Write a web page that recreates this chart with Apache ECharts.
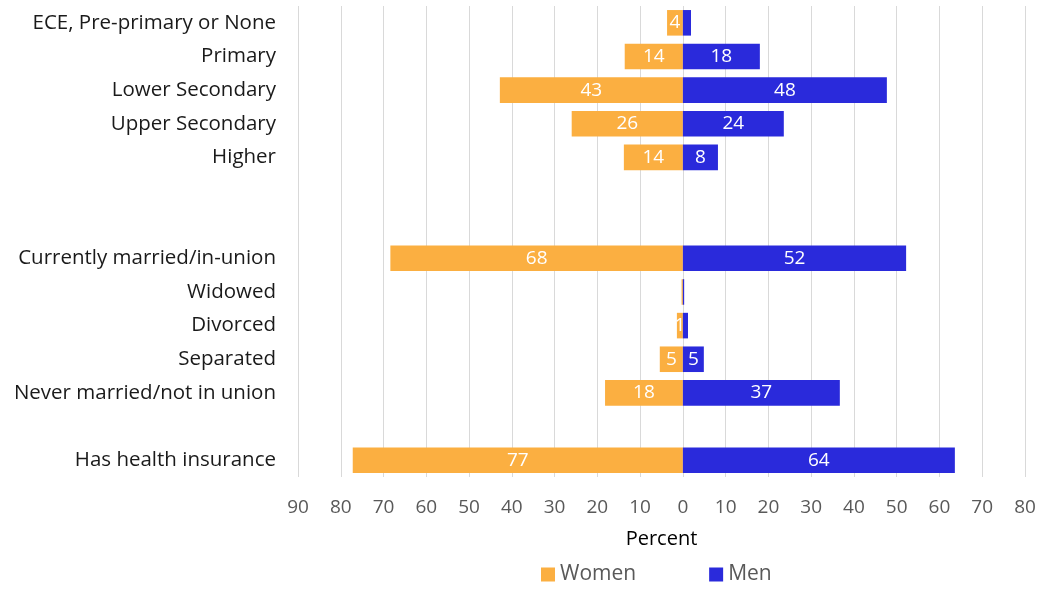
<!DOCTYPE html>
<html>
<head>
<meta charset="utf-8">
<script src="https://cdn.jsdelivr.net/npm/echarts@6/dist/echarts.min.js"></script>
<style>
  html, body { margin: 0; padding: 0; background: #ffffff; }
  #chart { width: 1046px; height: 591px; }
</style>
</head>
<body>
<div id="chart"></div>
<script>
// Row labels, top to bottom; blank rows separate the groups
const categories = [
  'ECE, Pre-primary or None', 'Primary', 'Lower Secondary', 'Upper Secondary', 'Higher',
  ' ', '  ',
  'Currently married/in-union', 'Widowed', 'Divorced', 'Separated', 'Never married/not in union',
  '   ',
  'Has health insurance'
];
// Percent of women / men in each row
const women = [3.7, 13.6, 42.8, 26.0, 13.8, null, null, 68.4, 0.3, 1.4, 5.4, 18.2, null, 77.2];
const men   = [1.9, 18.0, 47.7, 23.6, 8.2, null, null, 52.2, 0.3, 1.2, 4.9, 36.7, null, 63.6];
// Rows whose bar is too thin to carry a value label
const womenNoLabel = [8];
const menNoLabel = [0, 8, 9];

const FONT = '"Open Sans", "Noto Sans", sans-serif';

function buildData(values, sign, noLabel) {
  return values.map((v, i) => {
    if (v === null) return null;
    const item = { value: sign * v };
    if (noLabel.includes(i)) item.label = { show: false };
    return item;
  });
}

const labelStyle = {
  show: true,
  position: 'inside',
  color: '#ffffff',
  fontSize: 19,
  fontFamily: FONT,
  formatter: p => Math.round(Math.abs(p.value))
};

const chart = echarts.init(document.getElementById('chart'));
chart.setOption({
  animation: false,
  textStyle: { fontFamily: FONT },
  grid: { left: 298, right: 21, top: 6, bottom: 114, containLabel: false },
  legend: {
    bottom: 1,
    left: 536,
    itemWidth: 14,
    itemHeight: 14,
    itemGap: 73,
    icon: 'rect',
    textStyle: { fontSize: 21, color: '#595959', fontFamily: FONT },
    data: ['Women', 'Men']
  },
  xAxis: {
    type: 'value',
    min: -90,
    max: 80,
    interval: 10,
    name: 'Percent',
    nameLocation: 'middle',
    nameGap: 52,
    nameTextStyle: { fontSize: 20, color: '#000000', fontFamily: FONT },
    axisLine: { show: false },
    axisTick: { show: false },
    axisLabel: {
      fontSize: 19,
      color: '#595959',
      margin: 21,
      fontFamily: FONT,
      formatter: v => Math.abs(v)
    },
    splitLine: { show: true, lineStyle: { color: '#d9d9d9', width: 1 } }
  },
  yAxis: {
    type: 'category',
    data: categories,
    inverse: true,
    axisLine: { show: false },
    axisTick: { show: false },
    axisLabel: {
      fontSize: 20.5,
      color: '#1a1a1a',
      margin: 22,
      fontFamily: FONT
    }
  },
  series: [
    {
      name: 'Women',
      type: 'bar',
      stack: 'total',
      barWidth: '76%',
      itemStyle: { color: '#FBAF41' },
      label: labelStyle,
      data: buildData(women, -1, womenNoLabel)
    },
    {
      name: 'Men',
      type: 'bar',
      stack: 'total',
      barWidth: '76%',
      itemStyle: { color: '#2A2ADB' },
      label: labelStyle,
      data: buildData(men, 1, menNoLabel)
    }
  ]
});
</script>
</body>
</html>
